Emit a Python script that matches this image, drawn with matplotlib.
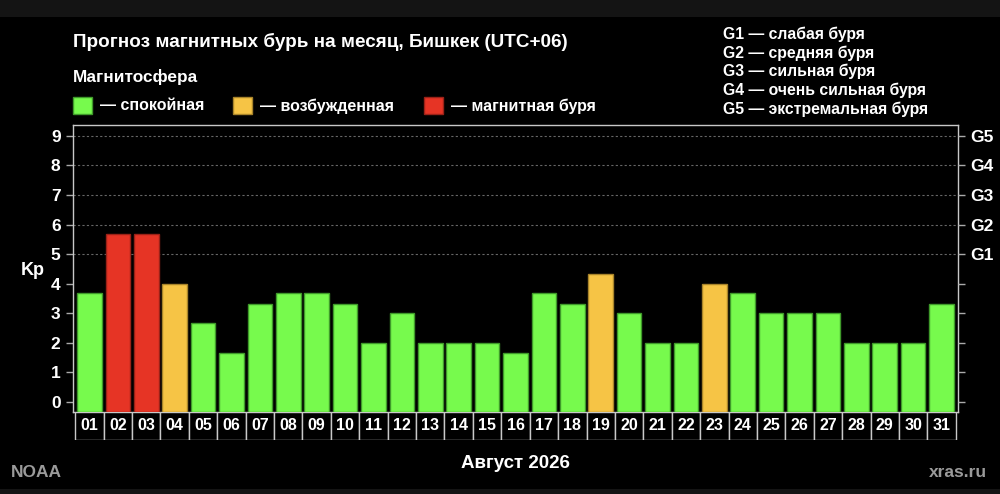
import numpy as np
import matplotlib.pyplot as plt
from matplotlib.patches import Rectangle

# данные прогноза Kp по дням
days = ['%02d' % d for d in range(1, 32)]
kp = [3.67, 5.67, 5.67, 4.0, 2.67, 1.67, 3.33, 3.67, 3.67, 3.33,
      2.0, 3.0, 2.0, 2.0, 2.0, 1.67, 3.67, 3.33, 4.33, 3.0,
      2.0, 2.0, 4.0, 3.67, 3.0, 3.0, 3.0, 2.0, 2.0, 2.0, 3.33]
state = ['q', 's', 's', 'a', 'q', 'q', 'q', 'q', 'q', 'q',
         'q', 'q', 'q', 'q', 'q', 'q', 'q', 'q', 'a', 'q',
         'q', 'q', 'a', 'q', 'q', 'q', 'q', 'q', 'q', 'q', 'q']
g_labels = ['G1', 'G2', 'G3', 'G4', 'G5']
g_levels = [5, 6, 7, 8, 9]
g_text = ['G1 — слабая буря', 'G2 — средняя буря', 'G3 — сильная буря',
          'G4 — очень сильная буря', 'G5 — экстремальная буря']
legend_items = [('q', '— спокойная'), ('a', '— возбужденная'), ('s', '— магнитная буря')]

face = {'q': '#77fa4d', 'a': '#f6c445', 's': '#e63425'}
edge = {'q': '#3f9a2a', 'a': '#a8842a', 's': '#9a2218'}

plt.rcParams['font.family'] = ['Liberation Sans', 'DejaVu Sans']
plt.rcParams['font.weight'] = 'bold'

W, H = 1000, 494
fig = plt.figure(figsize=(W / 100, H / 100), dpi=100, facecolor='black')

def fx(px):
    return px / W

def fy(py):
    return 1 - py / H

# тёмные полосы сверху и снизу
fig.patches.append(Rectangle((0, fy(17)), 1, 17 / H, transform=fig.transFigure,
                             facecolor='#141414', edgecolor='none', zorder=0))
fig.patches.append(Rectangle((0, 0), 1, 5 / H, transform=fig.transFigure,
                             facecolor='#141414', edgecolor='none', zorder=0))

ax = fig.add_axes([fx(73), fy(412), fx(885), 287 / H])
ax.set_facecolor('black')
x = np.arange(len(days))
ymin = -0.34
heights = [v - ymin for v in kp]
ax.bar(x, heights, bottom=ymin, width=0.87,
       color=[face[s] for s in state], edgecolor=[edge[s] for s in state],
       linewidth=1, zorder=3)
ax.set_xlim(-0.58, len(days) - 0.42)
ax.set_ylim(ymin, 9.37)
for lv in g_levels:
    ax.axhline(lv, color='#666666', linestyle=(0, (2, 2)), linewidth=0.8, zorder=1)

for sp in ax.spines.values():
    sp.set_color('#c8c8c8')
    sp.set_linewidth(1)
ax.set_xticks([])
ax.set_yticks(range(10))
ax.tick_params(axis='y', colors='#aaaaaa', length=5, width=1, labelcolor='white',
               labelsize=12.5, pad=4)

axr = ax.twinx()
axr.set_ylim(ax.get_ylim())
axr.set_yticks(range(10))
axr.set_yticklabels([''] * 5 + g_labels)
axr.tick_params(axis='y', colors='#aaaaaa', length=5, width=1, labelcolor='white',
                labelsize=12.5, pad=4)
for sp in axr.spines.values():
    sp.set_visible(False)

fig.text(fx(33), fy(270), 'Kp', color='white', fontsize=13, ha='center', va='center')

# ячейки с датами под графиком
axd = fig.add_axes([fx(73), fy(440), fx(885), 28 / H])
axd.set_facecolor('black')
axd.set_xlim(ax.get_xlim())
axd.set_ylim(0, 1)
axd.bar(x, 1, width=1, bottom=0, color='black', edgecolor='#c8c8c8', linewidth=1)
for i, d in enumerate(days):
    axd.text(i, 0.5, d, color='white', fontsize=11.5, ha='center', va='center')
axd.axis('off')

fig.text(fx(73), fy(42), 'Прогноз магнитных бурь на месяц, Бишкек (UTC+06)',
         color='white', fontsize=13.6, va='center')
fig.text(fx(73), fy(77), 'Магнитосфера', color='white', fontsize=12.4, va='center')

lx = [73, 233, 424]
for (key, label), px in zip(legend_items, lx):
    fig.patches.append(Rectangle((fx(px), fy(114)), 19 / W, 17 / H,
                                 transform=fig.transFigure, facecolor=face[key],
                                 edgecolor=edge[key], linewidth=1))
    fig.text(fx(px + 27), fy(106), label, color='white', fontsize=11.5, va='center')

for i, t in enumerate(g_text):
    fig.text(fx(723), fy(34 + i * 18.8), t, color='white', fontsize=11.3, va='center')

fig.text(fx(515), fy(463), 'Август 2026', color='white', fontsize=13.5, ha='center', va='center')
fig.text(fx(11), fy(472), 'NOAA', color='#9a9a9a', fontsize=12.5, va='center')
fig.text(fx(987), fy(472), 'xras.ru', color='#9a9a9a', fontsize=12.5, ha='right', va='center')

fig.savefig('out.png', dpi=100, facecolor='black')
